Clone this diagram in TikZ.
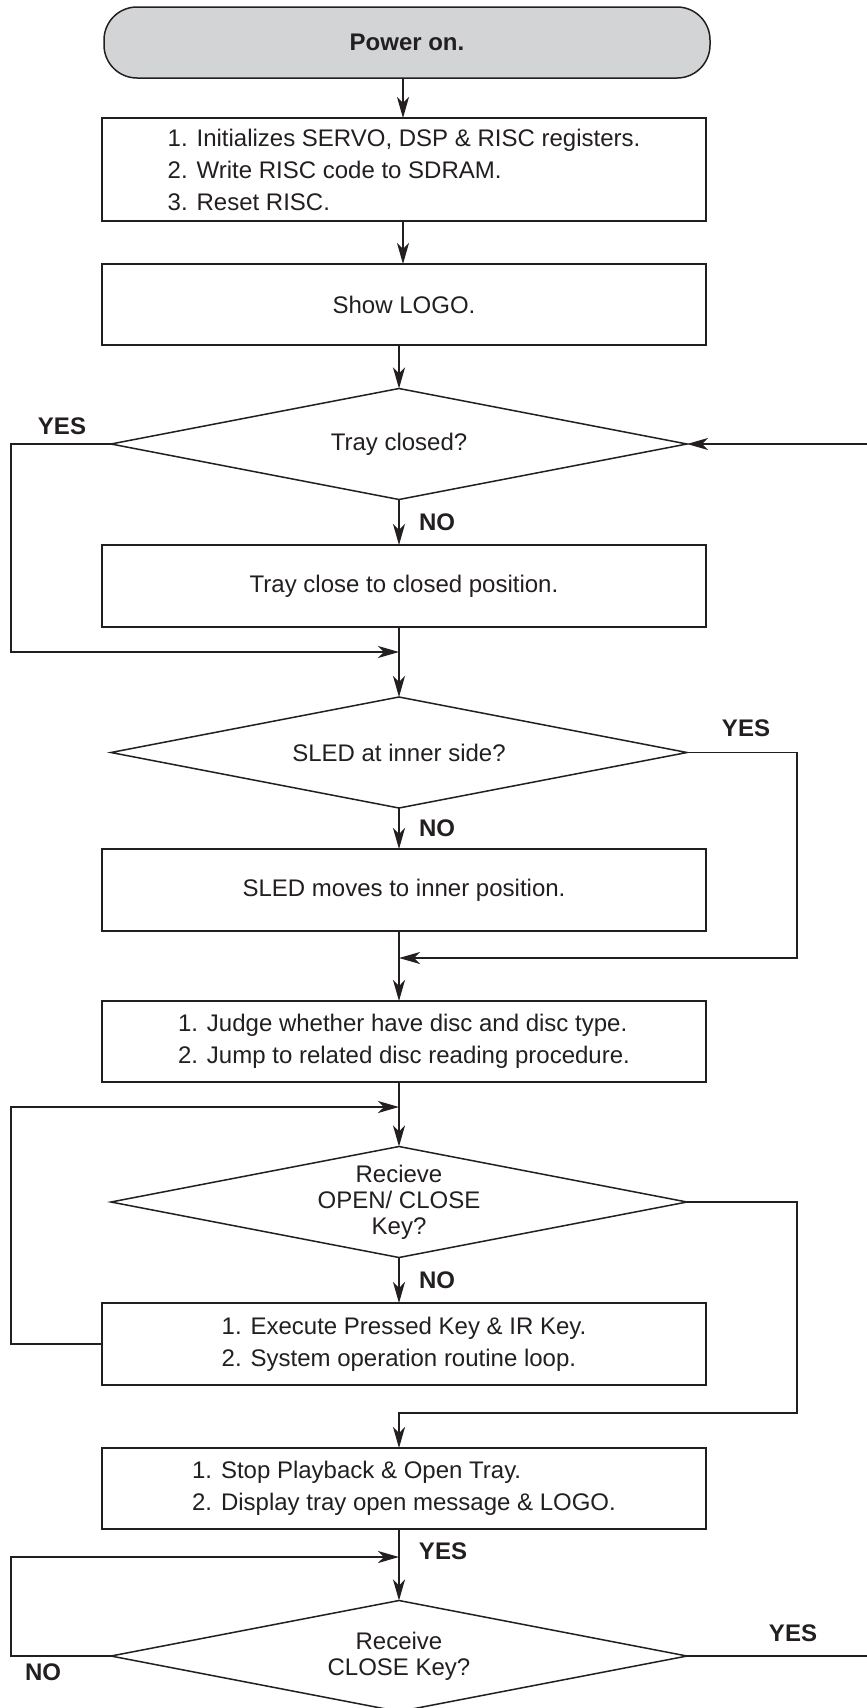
\documentclass[tikz,border=0pt]{standalone}
\usepackage{fontspec}
\setmainfont{Liberation Sans}
\usetikzlibrary{shapes.geometric,arrows.meta}
\definecolor{ink}{RGB}{35,31,32}
\definecolor{termfill}{RGB}{211,212,214}
\begin{document}
\begin{tikzpicture}[x=1pt,y=-1pt,
  every node/.style={text=ink},
  line/.style={draw=ink,line width=1.5pt,line join=miter},
  arr/.style={line,-{Stealth[length=21pt,width=12pt,inset=6pt]}},
  terminal/.style={draw=ink,line width=1.5pt,fill=termfill,rounded corners=33pt,minimum width=606pt,minimum height=71pt,inner sep=0pt,outer sep=0pt,font=\fontsize{24}{26}\selectfont\bfseries},
  procbox/.style={draw=ink,line width=1.5pt,rectangle,minimum width=604pt,inner sep=0pt,outer sep=0pt,font=\fontsize{24}{32}\selectfont,align=left},
  decision/.style={draw=ink,line width=1.5pt,diamond,minimum width=576pt,minimum height=111pt,aspect=5.2,inner sep=0pt,outer sep=0pt,font=\fontsize{24}{26}\selectfont,align=center},
  lbl/.style={font=\fontsize{24}{26}\selectfont\bfseries,inner sep=0pt}
]
\useasboundingbox (0,0) rectangle (867,1708);
\fill[white] (0,0) rectangle (867,1708);

% axis / helper coordinates
\coordinate (ax2) at (403,0);
\coordinate (lft) at (11,0);
\coordinate (rgt) at (797,0);
\coordinate (edge) at (867,0);
\coordinate (j1) at (399,652);
\coordinate (j2) at (399,958);
\coordinate (j3) at (399,1107);
\coordinate (j4) at (399,1413);
\coordinate (j5) at (399,1557);

% nodes
\node[terminal] (term) at (407,42.5) {Power on.};
\node[procbox,minimum height=103pt] (b1) at (404,169.5) {1. Initializes SERVO, DSP \& RISC registers.\\2. Write RISC code to SDRAM.\\3. Reset RISC.};
\node[procbox,minimum height=81pt] (b2) at (404,304.5) {Show LOGO.};
\node[decision] (d1) at (399,444) {Tray closed?};
\node[procbox,minimum height=82pt] (b3) at (404,586) {Tray close to closed position.};
\node[decision] (d2) at (399,752.5) {SLED at inner side?};
\node[procbox,minimum height=82pt] (b4) at (404,890) {SLED moves to inner position.};
\node[procbox,minimum height=81pt] (b5) at (404,1041.5) {1. Judge whether have disc and disc type.\\2. Jump to related disc reading procedure.};
\node[decision] (d3) at (399,1202) {Recieve\\OPEN/ CLOSE\\Key?};
\node[procbox,minimum height=82pt] (b6) at (404,1344) {1. Execute Pressed Key \& IR Key.\\2. System operation routine loop.};
\node[procbox,minimum height=81pt] (b7) at (404,1488.5) {1. Stop Playback \& Open Tray.\\2. Display tray open message \& LOGO.};
\node[decision] (d4) at (399,1656) {Receive\\CLOSE Key?};

% connectors
\draw[arr] (term.south -| ax2) -- (b1.north -| ax2);
\draw[arr] (b1.south -| ax2) -- (b2.north -| ax2);
\draw[arr] (b2.south -| d1.north) -- (d1.north);
\draw[arr] (d1.south) -- (b3.north -| d1.south);
\draw[arr] (d1.west) -- (d1.west -| lft) |- (j1);
\draw[arr] (d1.east -| edge) -- (d1.east);
\draw[arr] (b3.south -| d2.north) -- (d2.north);
\draw[arr] (d2.south) -- (b4.north -| d2.south);
\draw[arr] (d2.east) -- (d2.east -| rgt) |- (j2);
\draw[arr] (b4.south -| d3.north) -- (b5.north -| d3.north);
\draw[arr] (b5.south -| d3.north) -- (d3.north);
\draw[arr] (b6.west) -- (b6.west -| lft) |- (j3);
\draw[arr] (d3.south) -- (b6.north -| d3.south);
\draw[arr] (d3.east) -- (d3.east -| rgt) |- (j4) -- (b7.north -| j4);
\draw[arr] (b7.south -| d4.north) -- (d4.north);
\draw[arr] (d4.west) -- (d4.west -| lft) |- (j5);
\draw[line] (d4.east) -- (d4.east -| edge);

% labels
\node[lbl] (y1) at (62,426) {YES};
\node[lbl] (n1) at (437,522) {NO};
\node[lbl] (y2) at (746,728) {YES};
\node[lbl] (n2) at (437,828) {NO};
\node[lbl] (n3) at (437,1280) {NO};
\node[lbl] (y3) at (443,1551) {YES};
\node[lbl] (y4) at (793,1633) {YES};
\node[lbl] (n4) at (43,1672) {NO};
\end{tikzpicture}
\end{document}
